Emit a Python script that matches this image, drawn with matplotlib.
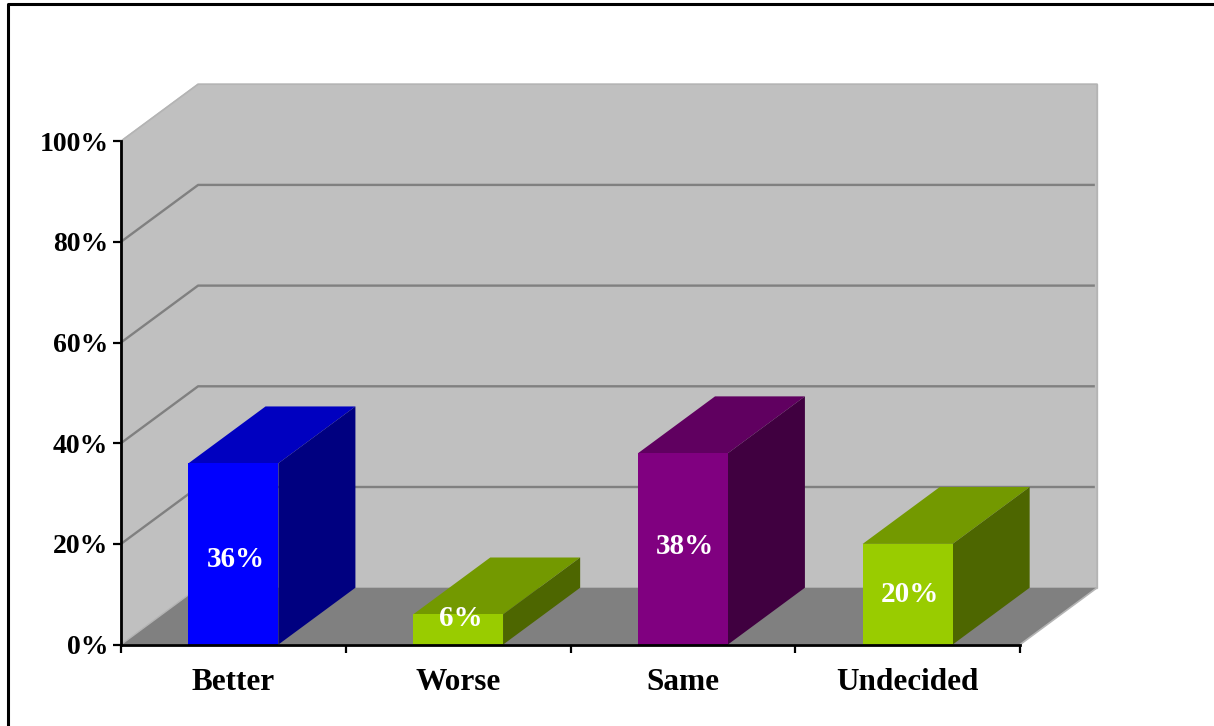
import matplotlib
matplotlib.use("Agg")
from matplotlib import pyplot as plt
from matplotlib.patches import Polygon

categories = ['Better', 'Worse', 'Same', 'Undecided']
values = [36, 6, 38, 20]
value_labels = ['36%', '6%', '38%', '20%']
label_heights = [17.0, 5.1, 19.4, 10.0]
front_colors = ['#0000ff', '#99cc00', '#800080', '#99cc00']
top_colors = ['#0000c0', '#739900', '#600060', '#739900']
side_colors = ['#000080', '#4d6600', '#400040', '#4d6600']
y_ticks = [0, 20, 40, 60, 80, 100]
y_labels = ['0%', '20%', '40%', '60%', '80%', '100%']

# 3d look: how far the back of the chart is shifted, in data units
depth_x = 0.343
depth_y = 11.3
bar_width = 0.4

plt.rcParams['font.family'] = ['Liberation Serif', 'DejaVu Serif']
fig = plt.figure(figsize=(12.14, 7.26), dpi=100)
ax = fig.add_axes([0, 0, 1, 1])
# axes fill the figure, limits put the category axis and 0-100 where they sit in the picture
ax.set_xlim(-121 / 224.75, (1214 - 121) / 224.75)
ax.set_ylim(-81.4 / 5.035, 644.6 / 5.035)


def face(points, color, z, edge='none'):
    ax.add_patch(Polygon(points, closed=True, facecolor=color, edgecolor=edge, linewidth=1, zorder=z))


# walls and floor
face([(0, 0), (0, 100), (depth_x, 100 + depth_y), (depth_x, depth_y)], '#c0c0c0', 1, '#c0c0c0')
face([(depth_x, depth_y), (depth_x, 100 + depth_y), (4 + depth_x, 100 + depth_y), (4 + depth_x, depth_y)],
     '#c0c0c0', 1, '#c0c0c0')
face([(0, 0), (depth_x, depth_y), (4 + depth_x, depth_y), (4, 0)], '#808080', 2)

# light edges around the walls and floor
ax.plot([0, depth_x, 4 + depth_x, 4 + depth_x, 4], [100, 100 + depth_y, 100 + depth_y, depth_y, 0],
        color='#b4b4b4', lw=1.2, zorder=3)
ax.plot([0, depth_x], [0, depth_y], color='#b4b4b4', lw=1, zorder=3)

# gridlines
for t in y_ticks[1:-1]:
    ax.plot([0, depth_x, 4 + depth_x - 0.01], [t, t + depth_y, t + depth_y], color='#808080', lw=1.7, zorder=3,
            solid_capstyle='butt')

# bars
for i, v in enumerate(values):
    x0 = i + 0.5 - bar_width / 2
    x1 = i + 0.5 + bar_width / 2
    face([(x0, v), (x1, v), (x1 + depth_x, v + depth_y), (x0 + depth_x, v + depth_y)], top_colors[i], 4)
    face([(x1, 0), (x1, v), (x1 + depth_x, v + depth_y), (x1 + depth_x, depth_y)], side_colors[i], 4)
    face([(x0, 0), (x1, 0), (x1, v), (x0, v)], front_colors[i], 5)
    ax.text(i + 0.5 + 0.01, label_heights[i], value_labels[i], color='white', fontsize=21, fontweight='bold',
            ha='center', va='center', zorder=6)

# axes lines and ticks
for side in ['top', 'right']:
    ax.spines[side].set_visible(False)
ax.spines['left'].set_position(('data', 0))
ax.spines['bottom'].set_position(('data', 0))
ax.spines['left'].set_bounds(0, 100)
ax.spines['bottom'].set_bounds(0, 4)
ax.spines['left'].set_linewidth(2)
ax.spines['bottom'].set_linewidth(2)
ax.spines['left'].set_zorder(7)
ax.spines['bottom'].set_zorder(7)
ax.patch.set_visible(False)

ax.set_yticks(y_ticks)
ax.set_yticklabels(y_labels, fontsize=20, fontweight='bold')
ax.set_xticks([0, 1, 2, 3, 4])
ax.set_xticklabels([])
ax.set_xticks([0.5, 1.5, 2.5, 3.5], minor=True)
ax.set_xticklabels(categories, minor=True, fontsize=22.5, fontweight='bold')
ax.tick_params(axis='both', which='major', direction='out', length=6, width=1.6, pad=3)
ax.tick_params(axis='x', which='minor', length=0, pad=17)

# outer frame, runs off the right and bottom of the image
ax.plot([0.0066, 0.0066, 1.0], [0, 0.9945, 0.9945], transform=ax.transAxes, color='black', lw=2.2,
        clip_on=False, zorder=8)

fig.savefig('out.png', dpi=100)
